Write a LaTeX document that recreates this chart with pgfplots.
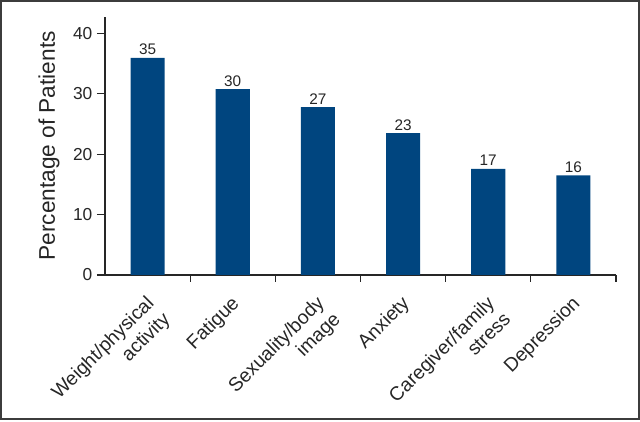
\documentclass[border=0pt]{standalone}
\usepackage{pgfplots}
\pgfplotsset{compat=1.18}
\usepackage{fontspec}
\setmainfont{Liberation Sans}
\definecolor{barblue}{RGB}{0,69,127}
\definecolor{framegray}{RGB}{60,60,60}

\pgfplotstableread{
x h lab
0 36.0 35
1 30.8 30
2 27.8 27
3 23.5 23
4 17.6 17
5 16.5 16
}\concerns

\begin{document}
\begin{tikzpicture}
\draw[framegray, line width=1.5pt] (0.75pt,0.75pt) rectangle (479.25pt,314.25pt);
\begin{axis}[
  at={(78.75pt,108.75pt)}, anchor=south west,
  scale only axis, width=383.25pt, height=193.7pt,
  xmin=-0.5, xmax=5.5, ymin=0, ymax=42.8,
  axis lines*=left,
  axis line style={black!85, line width=0.9pt},
  ytick={0,10,...,40},
  xtick={0,...,5},
  xticklabels={{Weight/physical\\activity},Fatigue,{Sexuality/body\\image},Anxiety,{Caregiver/family\\stress},Depression},
  minor xtick={0.5,1.5,...,5.5},
  tick align=outside,
  major tick length=6pt, minor tick length=5pt,
  tick style={black!85, line width=0.8pt},
  every major x tick/.style={draw=none},
  x tick label style={xshift=-2pt, yshift=-7pt, rotate=45, anchor=north east, align=right,
    font=\fontsize{14.5}{17}\selectfont, text=black!85, inner sep=1pt},
  y tick label style={font=\fontsize{13}{15}\selectfont, text=black!85},
  ylabel={Percentage of Patients},
  ylabel style={font=\fontsize{17}{19}\selectfont, text=black!85,
    at={(axis description cs:-0.1096,0.5)}, anchor=center},
  /pgf/number format/assume math mode=true,
]
\addplot[ybar, bar width=0.4, fill=barblue, draw=none,
  nodes near coords, point meta=explicit symbolic,
  nodes near coords style={font=\fontsize{11.5}{13}\selectfont, text=black!85, inner sep=2pt}]
  table[x=x, y=h, meta=lab]{\concerns};
\end{axis}
\end{tikzpicture}
\end{document}
